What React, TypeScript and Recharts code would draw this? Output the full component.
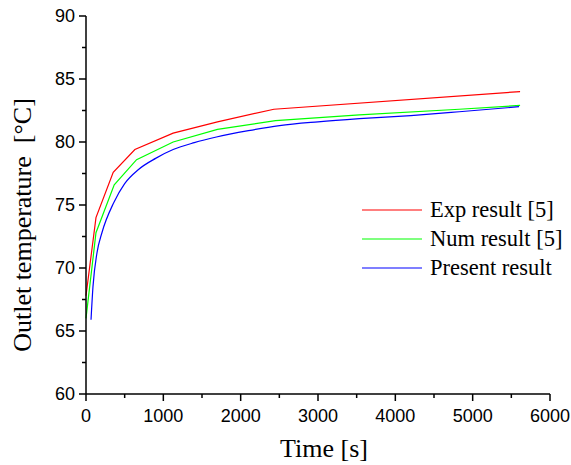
import { Label, Legend, Line, LineChart, XAxis, YAxis } from "recharts";

// values
const expTime = [0, 129, 352, 632, 1127, 1700, 2430, 5613];
const expTemp = [67.8, 74.0, 77.6, 79.4, 80.7, 81.6, 82.6, 84.0];

const numTime = [0, 129, 365, 654, 1127, 1700, 2450, 3535, 4826, 5613];
const numTemp = [66.0, 72.8, 76.6, 78.6, 80.0, 81.0, 81.7, 82.15, 82.6, 82.9];

const presentTime = [65, 90, 142, 206, 360, 500, 675, 900, 1127, 1400, 1686, 2100, 2503, 3000, 3535, 4200, 4826, 5600];
const presentTemp = [65.9, 68.5, 71.2, 72.8, 75.2, 76.7, 77.8, 78.7, 79.4, 79.95, 80.4, 80.9, 81.3, 81.6, 81.85, 82.1, 82.4, 82.8];

const xTicks = [0, 500, 1000, 1500, 2000, 2500, 3000, 3500, 4000, 4500, 5000, 5500, 6000];
const yTicks = [60, 62.5, 65, 67.5, 70, 72.5, 75, 77.5, 80, 82.5, 85, 87.5, 90];

const toPoints = (t: number[], v: number[]) => t.map((time, i) => ({ time, temp: v[i] }));

const expData = toPoints(expTime, expTemp);
const numData = toPoints(numTime, numTemp);
const presentData = toPoints(presentTime, presentTemp);

const SANS = '"Liberation Sans", Arial, sans-serif';
const SERIF = '"Liberation Serif", "Times New Roman", serif';

function YTick(props: any) {
  const { x, y, payload } = props;
  const major = payload.value % 5 === 0;
  return (
    <g>
      <line x1={x - (major ? 7 : 4)} x2={x} y1={y} y2={y} stroke="#000" strokeWidth={1.5} />
      {major && (
        <text x={x - 11} y={y} dy="0.36em" textAnchor="end" fontFamily={SANS} fontSize={18} fill="#000">
          {payload.value}
        </text>
      )}
    </g>
  );
}

function XTick(props: any) {
  const { x, y, payload } = props;
  const major = payload.value % 1000 === 0;
  return (
    <g>
      <line x1={x} x2={x} y1={y} y2={y + (major ? 7 : 4)} stroke="#000" strokeWidth={1.5} />
      {major && (
        <text x={x} y={y + 28} textAnchor="middle" fontFamily={SANS} fontSize={18} fill="#000">
          {payload.value}
        </text>
      )}
    </g>
  );
}

function LegendBox(props: any) {
  const { payload = [] } = props;
  return (
    <div style={{ fontFamily: SERIF, fontSize: 22.5, color: "#000" }}>
      {payload.map((item: any) => (
        <div key={item.value} style={{ display: "flex", alignItems: "center", height: 29 }}>
          <svg width={60} height={4} style={{ display: "block" }}>
            <line x1={0} x2={60} y1={2} y2={2} stroke={item.color} strokeWidth={1.2} />
          </svg>
          <span style={{ marginLeft: 8, whiteSpace: "nowrap" }}>{item.value}</span>
        </div>
      ))}
    </div>
  );
}

export default function App() {
  return (
    <div style={{ position: "absolute", left: 0, top: 0, background: "#fff" }}>
      <LineChart width={571} height={465} margin={{ top: 16, right: 21, bottom: 0, left: 0 }}>
        <XAxis
          type="number"
          dataKey="time"
          domain={[0, 6000]}
          ticks={xTicks}
          interval={0}
          height={71}
          tickSize={0}
          tickMargin={0}
          tick={<XTick />}
          axisLine={{ stroke: "#000", strokeWidth: 1.5 }}
          tickLine={false}
        >
          <Label
            content={(p: any) => {
              const vb = p.viewBox || { x: 86, y: 394, width: 464, height: 71 };
              return (
                <text x={vb.x + vb.width / 2 + 6} y={vb.y + 63} textAnchor="middle" fontFamily={SERIF} fontSize={26} fill="#000">
                  Time [s]
                </text>
              );
            }}
          />
        </XAxis>
        <YAxis
          type="number"
          dataKey="temp"
          domain={[60, 90]}
          ticks={yTicks}
          interval={0}
          width={86}
          tickSize={0}
          tickMargin={0}
          tick={<YTick />}
          axisLine={{ stroke: "#000", strokeWidth: 1.5 }}
          tickLine={false}
        >
          <Label
            content={(p: any) => {
              const vb = p.viewBox || { x: 0, y: 16, width: 86, height: 378 };
              const cx = vb.x + 31;
              const cy = vb.y + vb.height / 2 + 20;
              return (
                <text
                  x={cx}
                  y={cy}
                  transform={`rotate(-90 ${cx} ${cy})`}
                  textAnchor="middle"
                  fontFamily={SERIF}
                  fontSize={26}
                  fill="#000"
                  style={{ whiteSpace: "pre" }}
                >
                  {"Outlet temperature  [°C]"}
                </text>
              );
            }}
          />
        </YAxis>
        <Legend
          layout="vertical"
          align="center"
          verticalAlign="middle"
          content={<LegendBox />}
          wrapperStyle={{ left: 362, top: 195, width: 210 }}
        />
        <Line data={expData} dataKey="temp" name="Exp result [5]" type="linear" stroke="#ff0000" strokeWidth={1.2} dot={false} isAnimationActive={false} />
        <Line data={numData} dataKey="temp" name="Num result [5]" type="linear" stroke="#00ff00" strokeWidth={1.2} dot={false} isAnimationActive={false} />
        <Line data={presentData} dataKey="temp" name="Present result" type="monotone" stroke="#0000ff" strokeWidth={1.2} dot={false} isAnimationActive={false} />
      </LineChart>
    </div>
  );
}
